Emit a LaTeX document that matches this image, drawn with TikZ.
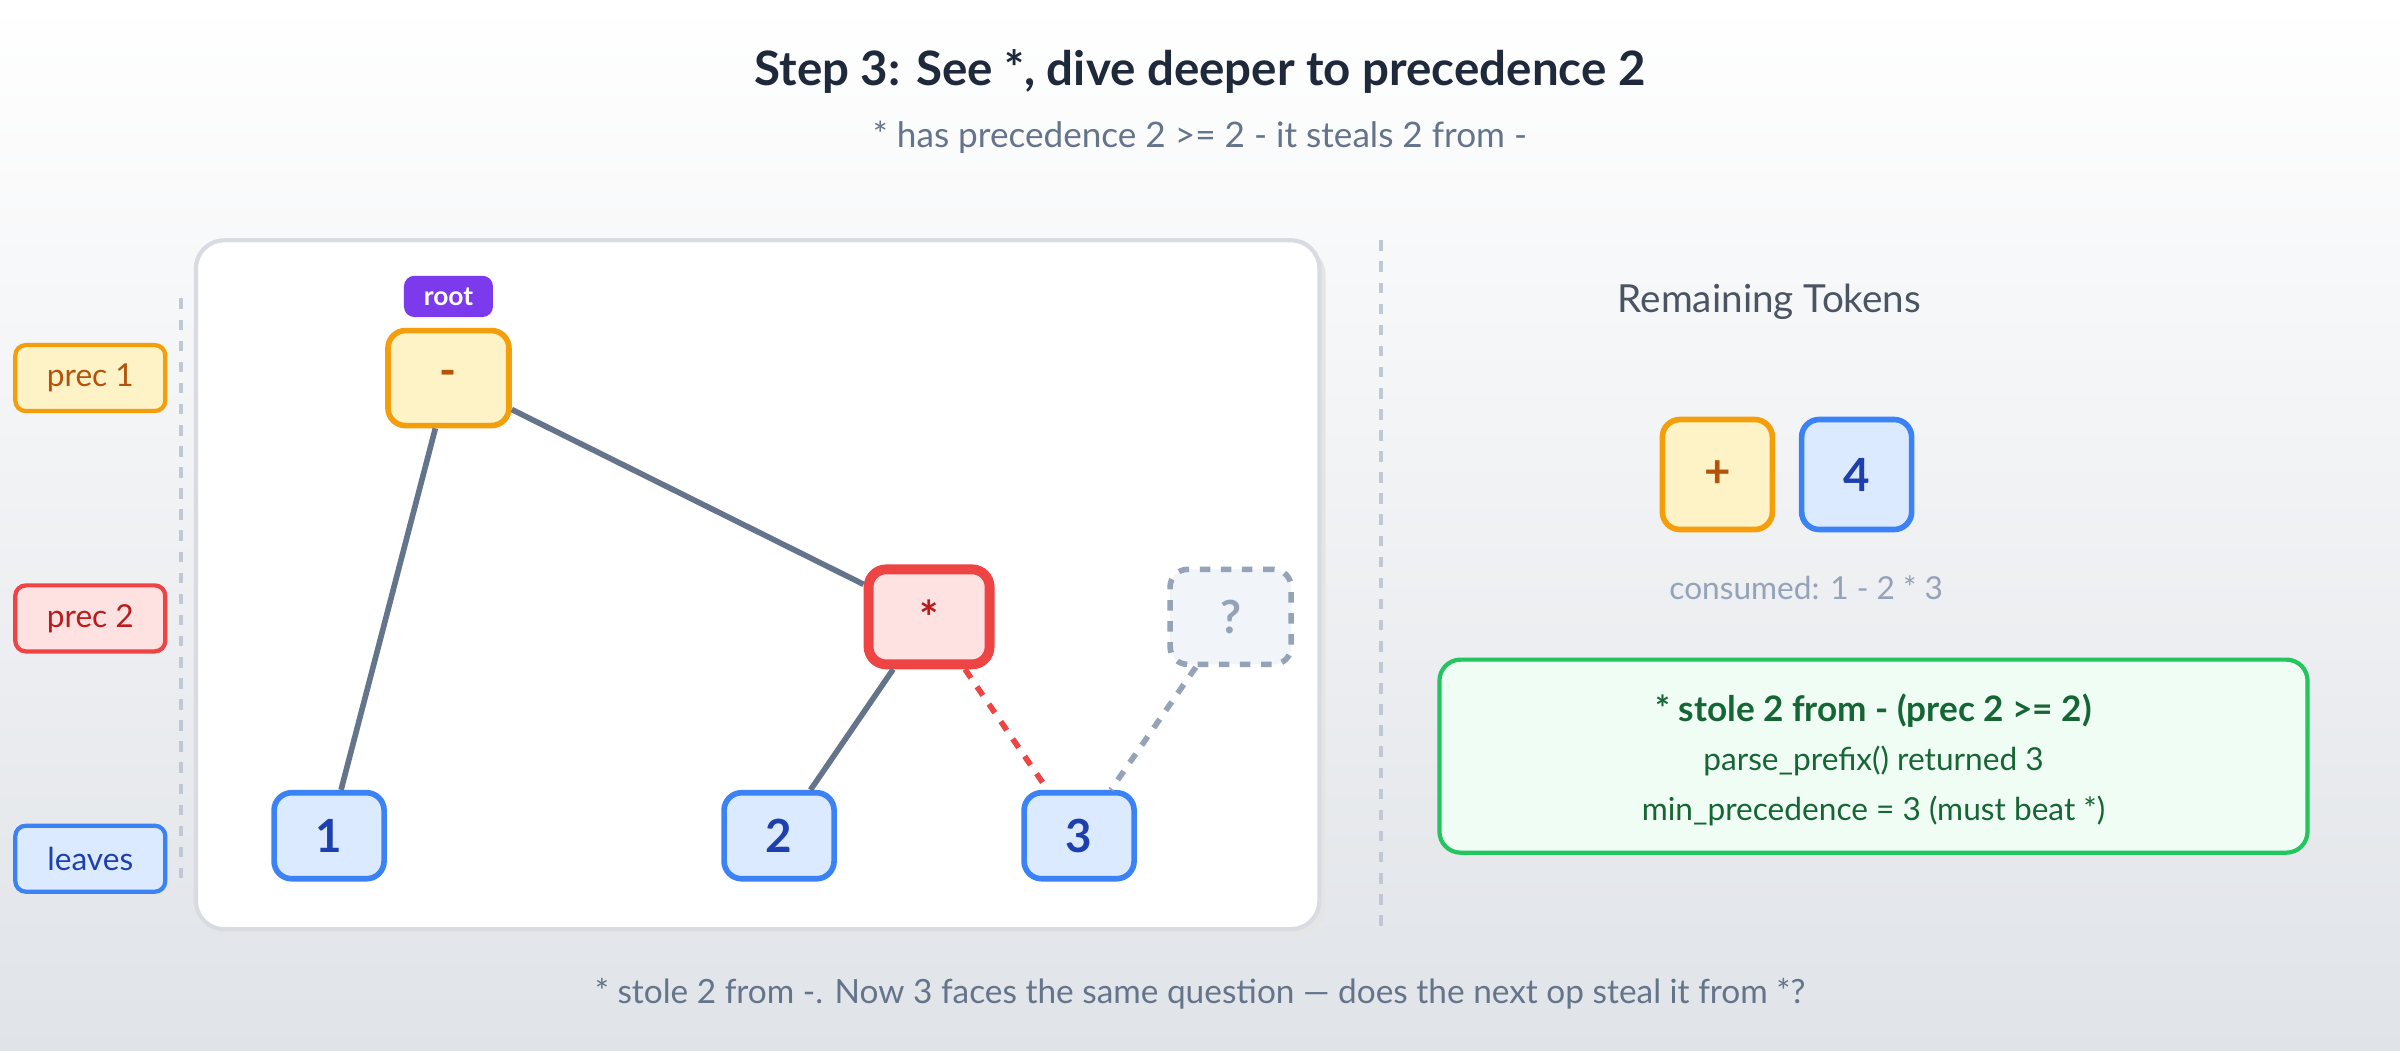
\documentclass[tikz,border=0pt]{standalone}
\usepackage{fontspec}
\setmainfont{Lato}
\usetikzlibrary{positioning}
\definecolor{ink}{HTML}{1E293B}
\definecolor{slate}{HTML}{64748B}
\definecolor{edgegray}{HTML}{64748B}
\definecolor{ywfill}{HTML}{FEF3C7}
\definecolor{ywline}{HTML}{F59E0B}
\definecolor{ywtext}{HTML}{B45309}
\definecolor{rdfill}{HTML}{FEE2E2}
\definecolor{rdline}{HTML}{EF4444}
\definecolor{rdtext}{HTML}{B91C1C}
\definecolor{blfill}{HTML}{DBEAFE}
\definecolor{blline}{HTML}{3B82F6}
\definecolor{bltext}{HTML}{1E40AF}
\definecolor{gnfill}{HTML}{F0FDF4}
\definecolor{gnline}{HTML}{22C55E}
\definecolor{gntext}{HTML}{166534}
\definecolor{qfill}{HTML}{F1F5F9}
\definecolor{qline}{HTML}{94A3B8}
\definecolor{purp}{HTML}{7C3AED}

\begin{document}
\begin{tikzpicture}[
  x=0.01531cm, y=-0.01531cm,
  legend/.style={rectangle, draw, rounded corners=3pt, line width=1.2pt, minimum width=1.5cm, minimum height=0.66cm, font=\fontsize{9}{11}\selectfont},
  opnode/.style={rectangle, draw, rounded corners=5pt, line width=1.6pt, minimum width=1.21cm, minimum height=0.95cm, font=\fontsize{13}{15}\selectfont\bfseries},
  leaf/.style={rectangle, draw=blline, fill=blfill, text=bltext, rounded corners=5pt, line width=1.6pt, minimum width=1.1cm, minimum height=0.86cm, font=\fontsize{13}{15}\selectfont\bfseries},
  token/.style={rectangle, draw, rounded corners=5pt, line width=1.6pt, minimum size=1.1cm, font=\fontsize{13}{15}\selectfont\bfseries},
  edge/.style={draw=edgegray, line width=1.6pt},
  guide/.style={draw=qline!60, line width=1.2pt, dashed}
]
  % Background
  \shade[top color=white, bottom color=slate!20] (0,0) rectangle (1568,686);
  \useasboundingbox (0,0) rectangle (1568,686);

  % Heading
  \node[font=\fontsize{13.5}{16}\selectfont\bfseries, text=ink] (title) at (784,47) {Step 3: See *, dive deeper to precedence 2};
  \node[font=\fontsize{10}{12}\selectfont, text=slate] (subtitle) at (784,90) {* has precedence 2 >= 2 - it steals 2 from -};

  % Tree panel
  \fill[black!10, rounded corners=8pt] (131,161) rectangle (866,611);
  \draw[fill=white, draw=slate!25, line width=1.2pt, rounded corners=8pt] (128,157) rectangle (862,607);

  % Legend
  \node[legend, draw=ywline, fill=ywfill, text=ywtext] (prec1) at (59,247) {prec 1};
  \node[legend, draw=rdline, fill=rdfill, text=rdtext] (prec2) at (59,404) {prec 2};
  \node[legend, draw=blline, fill=blfill, text=bltext] (leaves) at (59,561) {leaves};
  \draw[guide] (118,195) -- (118,580);

  % Tree nodes
  \node[opnode, draw=ywline, fill=ywfill, text=ywtext] (minus) at (293,247) {-};
  \node[rectangle, fill=purp, text=white, rounded corners=3pt, minimum width=0.89cm, minimum height=0.4cm, font=\fontsize{7.5}{9}\selectfont\bfseries, above=0.1cm of minus] (root) {root};
  \node[opnode, draw=rdline, fill=rdfill, text=rdtext, line width=2.8pt] (times) at (607,403) {*};
  \node[opnode, draw=qline, fill=qfill, text=qline, dashed] (unknown) at (804,403) {?};
  \node[leaf] (one) at (215,546) {1};
  \node[leaf] (two) at (509,546) {2};
  \node[leaf] (three) at (705,546) {3};

  \draw[edge] (minus) -- (one);
  \draw[edge] (minus) -- (times);
  \draw[edge] (times) -- (two);
  \draw[draw=rdline, line width=1.6pt, dashed] (times) -- (three);
  \draw[draw=qline, line width=1.6pt, dashed] (unknown) -- (three);

  % Divider
  \draw[guide] (902,157) -- (902,607);

  % Remaining tokens
  \node[font=\fontsize{11}{13}\selectfont, text=ink!80] (remain) at (1156,197) {Remaining Tokens};
  \node[token, draw=ywline, fill=ywfill, text=ywtext] (plus) at (1122,310) {+};
  \node[token, draw=blline, fill=blfill, text=bltext] (four) at (1213,310) {4};
  \node[font=\fontsize{9}{11}\selectfont, text=qline] (consumed) at (1180,384) {consumed: 1 - 2 * 3};

  % Note box
  \node[rectangle, draw=gnline, fill=gnfill, rounded corners=6pt, line width=1.2pt, minimum width=8.68cm, minimum height=1.93cm] (note) at (1224,494) {};
  \node[font=\fontsize{10}{12}\selectfont\bfseries, text=gntext] (note1) at (1224,464) {* stole 2 from - (prec 2 >= 2)};
  \node[font=\fontsize{9}{11}\selectfont, text=gntext] (note2) at (1224,497) {parse\_prefix() returned 3};
  \node[font=\fontsize{9}{11}\selectfont, text=gntext] (note3) at (1224,530) {min\_precedence = 3 (must beat *)};

  % Footer
  \node[font=\fontsize{9.5}{11}\selectfont, text=slate] (footer) at (784,649) {* stole 2 from -. Now 3 faces the same question — does the next op steal it from *?};
\end{tikzpicture}
\end{document}
